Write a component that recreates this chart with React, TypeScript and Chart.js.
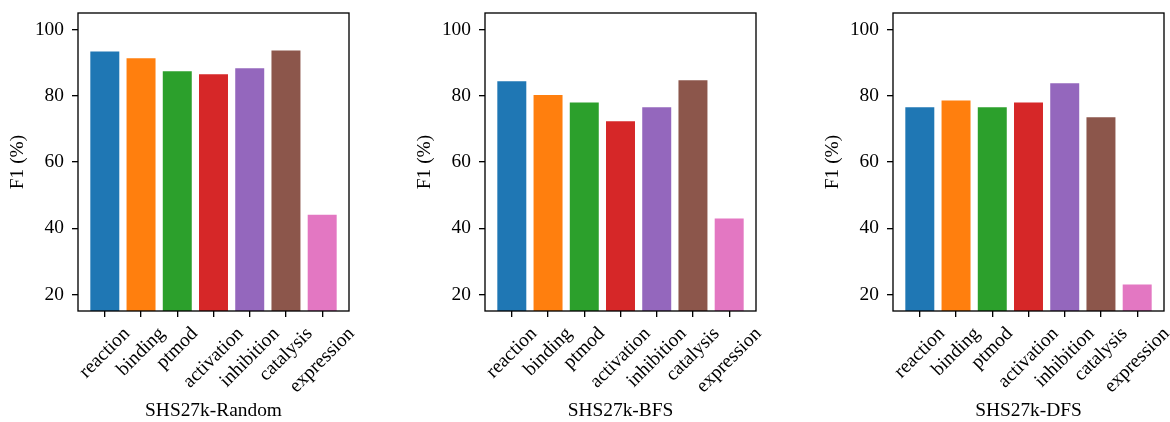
import React, { useEffect, useRef } from 'react';
import { Chart, registerables } from 'chart.js';

Chart.register(...registerables);

const categories = ['reaction', 'binding', 'ptmod', 'activation', 'inhibition', 'catalysis', 'expression'];
const randomF1 = [93.4, 91.3, 87.4, 86.5, 88.3, 93.7, 44.1];
const bfsF1 = [84.4, 80.2, 78.0, 72.3, 76.5, 84.7, 42.9];
const dfsF1 = [76.5, 78.6, 76.5, 78.0, 83.8, 73.5, 23.0];
const panelTitles = ['SHS27k-Random', 'SHS27k-BFS', 'SHS27k-DFS'];
const yTicks = [20, 40, 60, 80, 100];
const yLabel = 'F1 (%)';
const barColors = ['#1f77b4', '#ff7f0e', '#2ca02c', '#d62728', '#9467bd', '#8c564b', '#e377c2'];

const FONT_FAMILY = '"Liberation Serif", "Times New Roman", serif';
const FONT_SIZE = 19.4;
const PLOT_W = 271;
const Y_AXIS_W = 78;
const PLOT_TOP = 13;
const X_AXIS_H = 111;
const H = 422;

const decoPlugin = {
  id: 'deco',
  afterDraw(chart: any) {
    const ctx = chart.ctx;
    const xs = chart.scales.x;
    const area = chart.chartArea;
    ctx.save();
    ctx.font = `${FONT_SIZE}px ${FONT_FAMILY}`;
    ctx.fillStyle = '#000';
    ctx.textAlign = 'center';
    ctx.textBaseline = 'middle';
    categories.forEach((c, i) => {
      const px = xs.getPixelForValue(i);
      const L = ctx.measureText(c).width;
      const cy = area.bottom + 12 + (L + 1.15 * FONT_SIZE) * 0.3536;
      ctx.save();
      ctx.translate(px, cy);
      ctx.rotate(-Math.PI / 4);
      ctx.fillText(c, 0, 0);
      ctx.restore();
    });
    ctx.strokeStyle = '#000';
    ctx.lineWidth = 1.33;
    ctx.strokeRect(area.left, area.top, area.right - area.left, area.bottom - area.top);
    ctx.restore();
  },
};

function Panel({ values, title, left, width }: { values: number[]; title: string; left: number; width: number }) {
  const ref = useRef<HTMLCanvasElement | null>(null);
  useEffect(() => {
    if (!ref.current) return;
    const font = { family: FONT_FAMILY, size: FONT_SIZE, lineHeight: 1.2 };
    const chart = new Chart(ref.current, {
      type: 'bar',
      data: {
        datasets: [
          {
            data: values.map((v, i) => ({ x: i, y: v })),
            backgroundColor: barColors,
            borderWidth: 0,
            categoryPercentage: 1,
            barPercentage: 0.8,
          } as any,
        ],
      },
      plugins: [decoPlugin],
      options: {
        responsive: false,
        animation: false,
        devicePixelRatio: 1,
        layout: { padding: { left: 0, top: PLOT_TOP, right: width - Y_AXIS_W - PLOT_W, bottom: 0 } },
        plugins: { legend: { display: false }, tooltip: { enabled: false } },
        scales: {
          x: {
            type: 'linear',
            min: -0.74,
            max: 6.74,
            offset: false,
            afterBuildTicks: (s: any) => {
              s.ticks = categories.map((_, i) => ({ value: i }));
            },
            afterFit: (s: any) => {
              s.height = X_AXIS_H;
              s.paddingLeft = 0;
              s.paddingRight = 0;
            },
            ticks: { display: false },
            grid: {
              display: true,
              offset: false,
              drawOnChartArea: false,
              drawTicks: true,
              tickLength: 6,
              color: '#000',
              lineWidth: 1.33,
            },
            border: { display: false },
            title: {
              display: true,
              text: title,
              color: '#000',
              font: { family: FONT_FAMILY, size: FONT_SIZE, lineHeight: 1.1 },
              padding: { top: 0, bottom: 0 },
            },
          },
          y: {
            type: 'linear',
            min: 15,
            max: 105,
            afterBuildTicks: (s: any) => {
              s.ticks = yTicks.map((v) => ({ value: v }));
            },
            afterFit: (s: any) => {
              s.width = Y_AXIS_W;
              s.paddingTop = 0;
              s.paddingBottom = 0;
            },
            ticks: { color: '#000', font, padding: 8 },
            grid: {
              display: true,
              offset: false,
              drawOnChartArea: false,
              drawTicks: true,
              tickLength: 6,
              color: '#000',
              lineWidth: 1.33,
            },
            border: { display: false },
            title: {
              display: true,
              text: yLabel,
              color: '#000',
              font,
              padding: { top: 6.3, bottom: 0 },
            },
          },
        },
      } as any,
    });
    return () => chart.destroy();
  }, [values, title, width]);
  return (
    <canvas
      ref={ref}
      width={width}
      height={H}
      style={{ position: 'absolute', left, top: 0, width, height: H }}
    />
  );
}

export default function App() {
  useEffect(() => {
    document.body.style.margin = '0';
  }, []);
  return (
    <div
      style={{
        position: 'absolute',
        left: 0,
        top: 0,
        width: 1170,
        height: H,
        overflow: 'hidden',
        background: '#fff',
      }}
    >
      <Panel values={randomF1} title={panelTitles[0]} left={0} width={400} />
      <Panel values={bfsF1} title={panelTitles[1]} left={407} width={400} />
      <Panel values={dfsF1} title={panelTitles[2]} left={815} width={355} />
    </div>
  );
}
